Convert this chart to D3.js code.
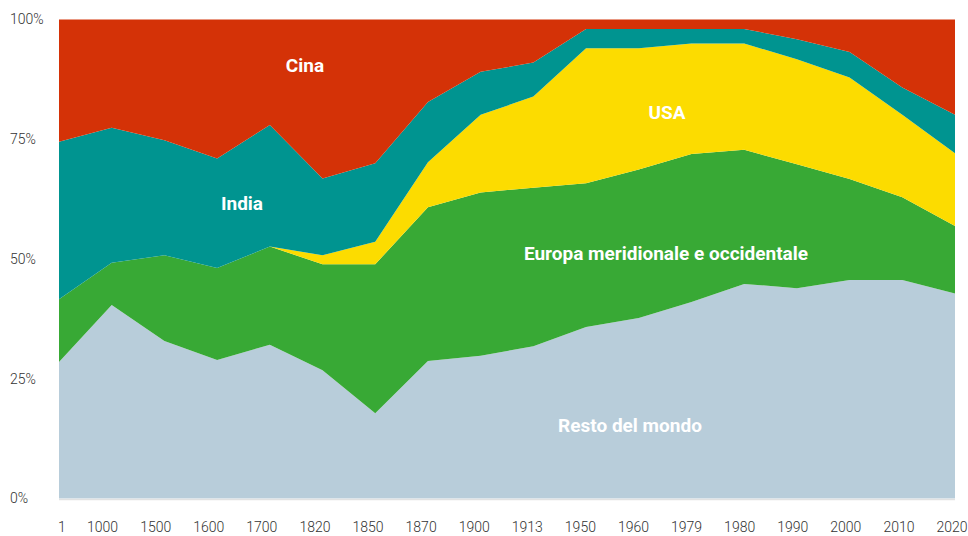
<!DOCTYPE html>
<html>
<head>
<meta charset="utf-8">
<script src="https://cdn.jsdelivr.net/npm/d3@7"></script>
<style>
  body { margin: 0; background: #fff; }
  svg { display: block; }
</style>
</head>
<body>
<svg id="chart" width="968" height="536"></svg>
<script>
// Anni (asse x)
const years = ["1", "1000", "1500", "1600", "1700", "1820", "1850", "1870", "1900", "1913",
               "1950", "1960", "1979", "1980", "1990", "2000", "2010", "2020"];

// Quote percentuali, dal basso verso l'alto
const resto  = [28.5, 40.4, 32.9, 28.9, 32.1, 26.8, 17.8, 28.7, 29.8, 31.8, 35.8, 37.7, 41.0, 44.8, 43.9, 45.6, 45.6, 42.8];
const europa = [13.1,  8.8, 17.9, 19.2, 20.5, 22.1, 31.1, 32.1, 34.1, 33.1, 30.0, 31.0, 30.9, 28.0, 25.9, 21.1, 17.3, 14.1];
const usa    = [ 0.0,  0.0,  0.0,  0.0,  0.0,  1.9,  4.7,  9.4, 16.2, 19.0, 28.2, 25.3, 23.1, 22.2, 21.9, 21.2, 17.2, 15.2];
const india  = [32.9, 28.2, 24.0, 22.9, 25.4, 16.0, 16.4, 12.6,  9.0,  7.1,  4.0,  4.0,  3.0,  3.0,  4.2,  5.3,  5.7,  8.0];
const cina   = [25.5, 22.6, 25.2, 29.0, 22.0, 33.2, 30.0, 17.2, 10.9,  9.0,  2.0,  2.0,  2.0,  2.0,  4.1,  6.8, 14.2, 19.9];

const yTicks = [0, 25, 50, 75, 100];

const series = [
  { key: "resto",  name: "Resto del mondo", values: resto,  color: "#b8cdda" },
  { key: "europa", name: "Europa meridionale e occidentale", values: europa, color: "#38a935" },
  { key: "usa",    name: "USA",   values: usa,   color: "#fcdc00" },
  { key: "india",  name: "India", values: india, color: "#009490" },
  { key: "cina",   name: "Cina",  values: cina,  color: "#d43207" }
];

// where the white names sit
const labelPos = {
  resto:  { x: 630, y: 432 },
  europa: { x: 666, y: 260 },
  usa:    { x: 667, y: 119 },
  india:  { x: 242, y: 210 },
  cina:   { x: 305, y: 72 }
};

const svg = d3.select("#chart");
const plotLeft = 59, plotRight = 955, plotTop = 19.5, plotBottom = 498.5;

const table = years.map((yr, i) => {
  const row = { year: yr };
  series.forEach(s => row[s.key] = s.values[i]);
  return row;
});

const stacked = d3.stack().keys(series.map(s => s.key))(table);

const x = d3.scalePoint().domain(years).range([plotLeft, plotRight]);
const y = d3.scaleLinear().domain([0, 100]).range([plotBottom, plotTop]);

const area = d3.area()
  .x(d => x(d.data.year))
  .y0(d => y(d[0]))
  .y1(d => y(d[1]));

svg.append("g")
  .selectAll("path")
  .data(stacked)
  .join("path")
  .attr("fill", (d, i) => series[i].color)
  .attr("d", area);

// baseline
svg.append("line")
  .attr("x1", plotLeft).attr("x2", plotRight)
  .attr("y1", plotBottom + 1).attr("y2", plotBottom + 1)
  .attr("stroke", "#e2e2e2")
  .attr("stroke-width", 1.5);

// y axis labels
svg.append("g")
  .selectAll("text")
  .data(yTicks)
  .join("text")
  .attr("x", 10)
  .attr("y", d => y(d))
  .attr("dy", "0.35em")
  .attr("font-family", "Roboto, sans-serif")
  .attr("font-weight", 300)
  .attr("font-size", 14)
  .attr("fill", "#333")
  .text(d => d + "%");

// x axis labels (sit slightly left of the data points in the original)
const xl = d3.scalePoint().domain(years).range([49.5, 952]);
svg.append("g")
  .selectAll("text")
  .data(years)
  .join("text")
  .attr("x", (d, i) => i === 0 ? xl(d) + 12.5 : xl(d))
  .attr("y", 532)
  .attr("text-anchor", "middle")
  .attr("font-family", "Roboto, sans-serif")
  .attr("font-weight", 300)
  .attr("font-size", 14)
  .attr("fill", "#333")
  .text(d => d);

// series labels
svg.append("g")
  .selectAll("text")
  .data(series)
  .join("text")
  .attr("x", d => labelPos[d.key].x)
  .attr("y", d => labelPos[d.key].y)
  .attr("text-anchor", "middle")
  .attr("font-family", "Roboto, sans-serif")
  .attr("font-weight", 700)
  .attr("font-size", 19)
  .attr("fill", "#fff")
  .text(d => d.name);
</script>
</body>
</html>
